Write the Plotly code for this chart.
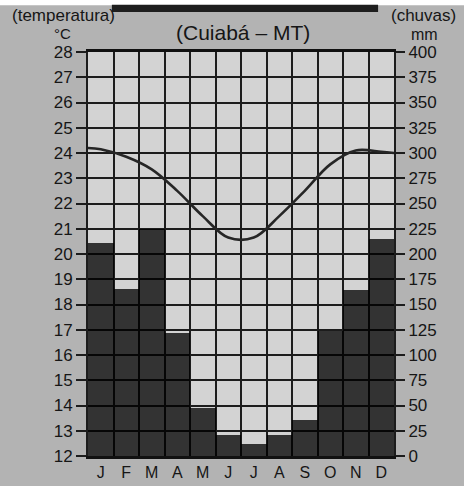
import plotly.graph_objects as go

# ---- data ----
months = ["J", "F", "M", "A", "M", "J", "J", "A", "S", "O", "N", "D"]
rain_mm = [211, 165, 225, 122, 48, 21, 12, 21, 36, 124, 164, 215]
temp_c = [24.15, 23.85, 23.35, 22.5, 21.5, 20.65, 20.65, 21.5, 22.5, 23.55, 24.1, 24.05]
temp_start_end = [24.2, 24.0]   # curve values at the start of Jan / end of Dec
temp_ticks = list(range(12, 29))
rain_ticks = list(range(0, 401, 25))

month_pos = list(range(1, len(months) + 1))
line_x = [month_pos[0] - 0.5] + month_pos + [month_pos[-1] + 0.5]
line_y = [temp_start_end[0]] + temp_c + [temp_start_end[1]]

TXT = "#161616"
FONT = "Liberation Sans, Arial, sans-serif"

fig = go.Figure()
fig.add_trace(go.Bar(
    x=month_pos, y=rain_mm, width=1, yaxis="y2",
    marker=dict(color="rgba(0,0,0,0.76)", line=dict(width=0)),
    showlegend=False, hoverinfo="skip"))
fig.add_trace(go.Scatter(
    x=line_x, y=line_y, mode="lines",
    line=dict(color="#262626", width=2.6, shape="spline", smoothing=1.0),
    showlegend=False, hoverinfo="skip"))

fig.update_layout(
    width=464, height=493,
    margin=dict(l=88, r=70, t=52, b=28),
    paper_bgcolor="#b3b3b3",
    plot_bgcolor="#d3d3d3",
    font=dict(family=FONT, color=TXT, size=16),
    bargap=0,
    xaxis=dict(
        range=[0.5, 12.5], tickmode="array", tickvals=month_pos, ticktext=months,
        showgrid=False, ticks="", zeroline=False,
        showline=True, linecolor="#111111", linewidth=2.5, mirror=True,
        minor=dict(tickmode="linear", tick0=0.5, dtick=1, showgrid=True,
                   gridcolor="#1c1c1c", gridwidth=2, ticks=""),
        tickfont=dict(size=16, color=TXT),
    ),
    yaxis=dict(
        range=[12, 28], tickmode="array", tickvals=temp_ticks,
        showgrid=True, gridcolor="#1c1c1c", gridwidth=2,
        ticks="outside", ticklen=10, tickwidth=2, tickcolor="#1c1c1c",
        zeroline=False, showline=True, linecolor="#1c1c1c", linewidth=2,
        tickfont=dict(size=17, color=TXT),
    ),
    yaxis2=dict(
        range=[0, 400], tickmode="array", tickvals=rain_ticks,
        overlaying="y", side="right", showgrid=False,
        ticks="outside", ticklen=9, tickwidth=2, tickcolor="#1c1c1c",
        zeroline=False, showline=True, linecolor="#1c1c1c", linewidth=2,
        tickfont=dict(size=17, color=TXT),
    ),
    shapes=[
        dict(type="rect", xref="paper", yref="paper", x0=-0.3, x1=1.3, y0=1.116, y1=1.14,
             fillcolor="#ffffff", line=dict(width=0), layer="below"),
        dict(type="rect", xref="paper", yref="paper", x0=0.078, x1=0.948, y0=1.099, y1=1.117,
             fillcolor="#1e1e1e", line=dict(width=0), layer="above"),
    ],
    annotations=[
        dict(text="(Cuiabá – MT)", xref="paper", yref="paper", x=0.506, y=1.049,
             xanchor="center", yanchor="middle", showarrow=False,
             font=dict(size=21, color=TXT)),
        dict(text="(temperatura)", xref="paper", yref="paper", x=-0.255, y=1.091,
             xanchor="left", yanchor="middle", showarrow=False, font=dict(size=17, color=TXT)),
        dict(text="°C", xref="paper", yref="paper", x=-0.05, y=1.046,
             xanchor="right", yanchor="middle", showarrow=False, font=dict(size=15, color=TXT)),
        dict(text="(chuvas)", xref="paper", yref="paper", x=1.098, y=1.091,
             xanchor="center", yanchor="middle", showarrow=False, font=dict(size=17, color=TXT)),
        dict(text="mm", xref="paper", yref="paper", x=1.101, y=1.043,
             xanchor="center", yanchor="middle", showarrow=False, font=dict(size=16, color=TXT)),
    ],
)

fig.write_html("out.html", config={"displayModeBar": False},
               post_script="document.body.style.margin='0';document.body.style.overflow='hidden';"
                           "document.body.style.background='#b3b3b3';")
